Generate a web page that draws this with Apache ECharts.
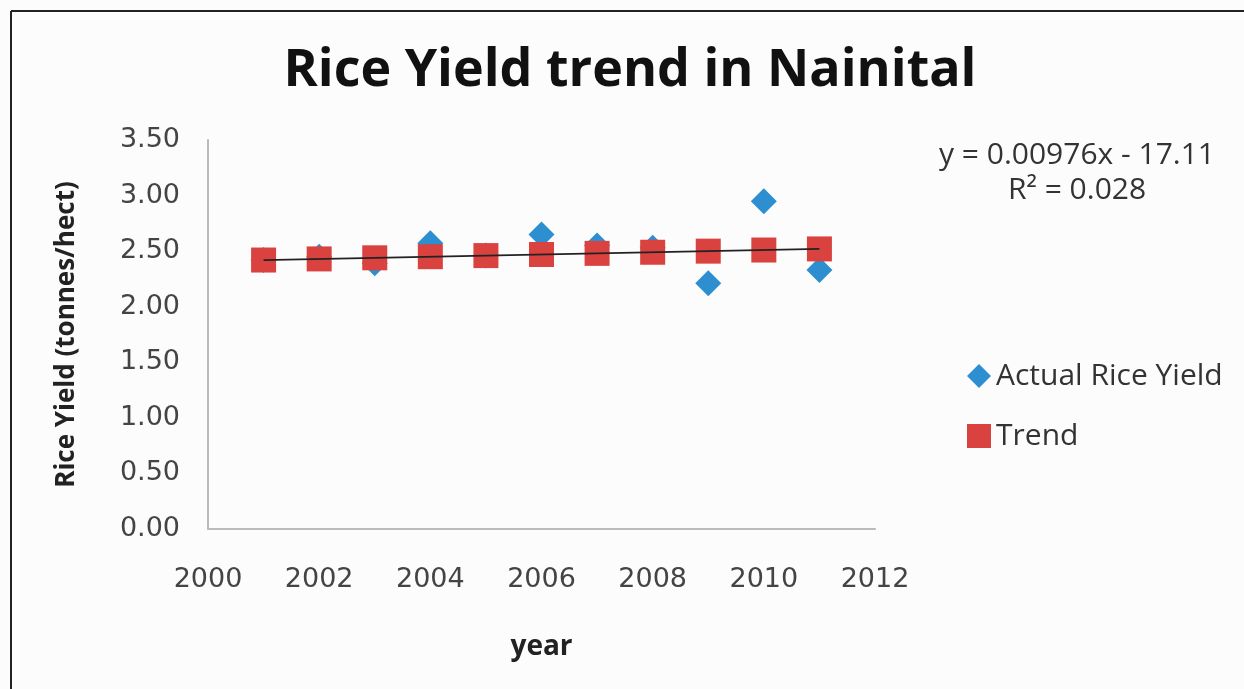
<!DOCTYPE html>
<html lang="en">
<head>
    <meta charset="UTF-8">
    <title>Rice Yield trend in Nainital</title>
    <script src="https://cdn.jsdelivr.net/npm/echarts@6/dist/echarts.min.js"></script>
    <style>
        html, body { margin: 0; padding: 0; background: #fcfcfc; }
        #chart { width: 1244px; height: 689px; }
    </style>
</head>
<body>
    <div id="chart"></div>
    <script>
        // Data
        var years = [2001, 2002, 2003, 2004, 2005, 2006, 2007, 2008, 2009, 2010, 2011];
        var actualYield = [2.42, 2.45, 2.39, 2.57, 2.46, 2.65, 2.55, 2.53, 2.21, 2.95, 2.33];
        var trendYield = [2.42, 2.43, 2.44, 2.45, 2.46, 2.47, 2.48, 2.49, 2.50, 2.51, 2.52];

        var font = '"Open Sans", "Liberation Sans", sans-serif';
        var tickFont = '"DejaVu Sans", sans-serif';
        var chart = echarts.init(document.getElementById('chart'));

        function pairs(xs, ys) {
            return xs.map(function (x, i) { return [x, ys[i]]; });
        }

        var option = {
            backgroundColor: '#fcfcfc',
            animation: false,
            title: {
                text: 'Rice Yield trend in Nainital',
                left: 625,
                top: 40,
                textAlign: 'center',
                textStyle: { fontFamily: font, fontSize: 52, fontWeight: 'bold', color: '#111' }
            },
            grid: { left: 208, right: 369, top: 140, bottom: 160 },
            legend: {
                orient: 'vertical',
                left: 962,
                top: 356,
                itemGap: 30,
                itemWidth: 24,
                itemHeight: 24,
                textStyle: { fontFamily: font, fontSize: 30, color: '#333' },
                data: [
                    { name: 'Actual Rice Yield', icon: 'diamond' },
                    { name: 'Trend', icon: 'rect' }
                ]
            },
            xAxis: {
                type: 'value',
                min: 2000, max: 2012, interval: 2,
                name: 'year',
                nameLocation: 'middle',
                nameGap: 104,
                nameTextStyle: { fontFamily: font, fontSize: 28, fontWeight: 'bold', color: '#222' },
                axisLine: { lineStyle: { color: '#bbb', width: 2 } },
                axisTick: { show: false },
                splitLine: { show: false },
                axisLabel: {
                    fontFamily: tickFont, fontSize: 27, color: '#444', margin: 37,
                    formatter: function (v) { return String(v); }
                }
            },
            yAxis: {
                type: 'value',
                min: 0, max: 3.5, interval: 0.5,
                name: 'Rice Yield (tonnes/hect)',
                nameLocation: 'middle',
                nameGap: 128,
                nameTextStyle: { fontFamily: font, fontSize: 26, fontWeight: 'bold', color: '#222' },
                axisLine: { show: true, lineStyle: { color: '#bbb', width: 2 } },
                axisTick: { show: false },
                splitLine: { show: false },
                axisLabel: {
                    fontFamily: tickFont, fontSize: 27, color: '#444', margin: 28,
                    formatter: function (v) { return v.toFixed(2); }
                }
            },
            series: [
                {
                    name: 'Actual Rice Yield',
                    type: 'scatter',
                    symbol: 'diamond',
                    symbolSize: 26,
                    itemStyle: { color: '#2e8fd0', opacity: 1 },
                    data: pairs(years, actualYield),
                    z: 2
                },
                {
                    name: 'Trend',
                    type: 'scatter',
                    symbol: 'rect',
                    symbolSize: 25,
                    itemStyle: { color: '#d9423f', opacity: 1 },
                    data: pairs(years, trendYield),
                    z: 3
                },
                {
                    name: 'trendline',
                    type: 'line',
                    symbol: 'none',
                    lineStyle: { color: '#222', width: 1.8 },
                    data: [[years[0], trendYield[0]], [years[years.length - 1], trendYield[trendYield.length - 1]]],
                    z: 4
                }
            ],
            graphic: [
                {
                    type: 'text', x: 1077, y: 140,
                    style: { text: 'y = 0.00976x - 17.11', font: '30px ' + font, fill: '#333', textAlign: 'center' }
                },
                {
                    type: 'text', x: 1077, y: 175,
                    style: { text: 'R² = 0.028', font: '30px ' + font, fill: '#333', textAlign: 'center' }
                },
                {
                    type: 'line',
                    shape: { x1: 11, y1: 11, x2: 1244, y2: 11 },
                    style: { stroke: '#222', lineWidth: 2 }
                },
                {
                    type: 'line',
                    shape: { x1: 11, y1: 11, x2: 11, y2: 689 },
                    style: { stroke: '#222', lineWidth: 2 }
                }
            ]
        };

        chart.setOption(option);
    </script>
</body>
</html>
